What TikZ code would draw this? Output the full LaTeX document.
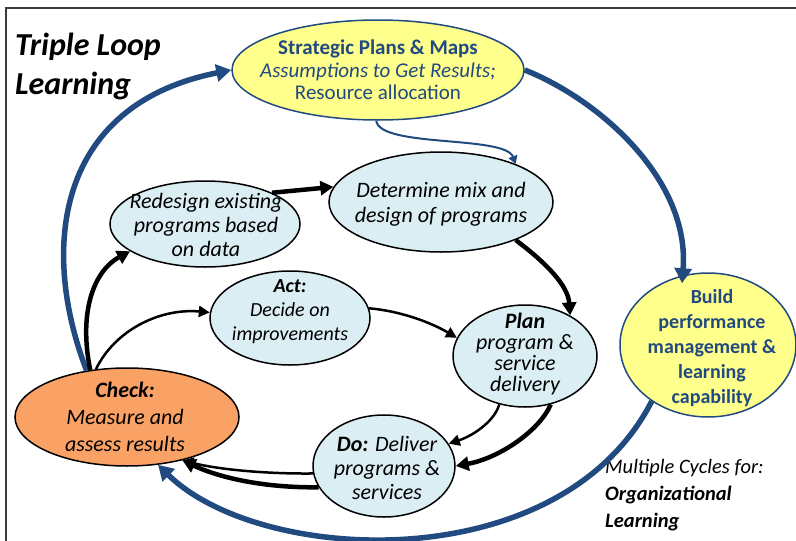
\documentclass[tikz,border=0pt]{standalone}
\usepackage{fontspec}
\setmainfont{Carlito}
\usetikzlibrary{shapes.geometric,arrows.meta}
\definecolor{bblue}{RGB}{33,74,128}
\definecolor{yfill}{RGB}{255,255,140}
\definecolor{lbfill}{RGB}{219,238,244}
\definecolor{ofill}{RGB}{250,162,102}
\definecolor{framec}{RGB}{60,60,60}
\begin{document}
\begin{tikzpicture}[x=1pt,y=-1pt,
  ell/.style={ellipse, draw=black, line width=1.5pt, inner sep=0pt},
  lbell/.style={ell, fill=lbfill},
  yell/.style={ellipse, draw=bblue, line width=1.5pt, fill=yfill, inner sep=0pt},
  txt/.style={align=center, inner sep=0pt, font=\fontsize{22}{24}\selectfont\itshape},
  bigblue/.style={draw=bblue, line width=5.5pt, -{Triangle[length=15pt,width=17pt]}},
  thinblue/.style={draw=bblue, line width=2pt, -{Triangle[length=8pt,width=9pt]}},
  thickarr/.style={draw=black, line width=4.5pt, -{Triangle[length=13pt,width=14pt]}},
  thinarr/.style={draw=black, line width=2.5pt, -{Triangle[length=11pt,width=11pt]}}
]
\useasboundingbox (0,0) rectangle (796,541);
\fill[white] (0,0) rectangle (796,541);
\draw[framec, line width=1.5pt] (796,8) -- (6,8) -- (6,541);

% nodes
\node[yell, minimum width=292pt, minimum height=100pt] (strat) at (378,70) {};
\node[yell, minimum width=176pt, minimum height=144pt] (build) at (708,345) {};
\node[lbell, minimum width=190pt, minimum height=86pt] (redesign) at (205,224) {};
\node[lbell, minimum width=224pt, minimum height=100pt] (det) at (441,202) {};
\node[lbell, minimum width=160pt, minimum height=94pt] (act) at (290,318) {};
\node[lbell, minimum width=144pt, minimum height=102pt] (plan) at (525,356) {};
\node[lbell, minimum width=142pt, minimum height=102pt] (do) at (384,466) {};
\node[ell, fill=ofill, minimum width=224pt, minimum height=98pt] (check) at (127,417) {};

% texts
\node[align=center, inner sep=0pt, text=bblue, font=\fontsize{21}{22.5}\selectfont] (strattxt) at (378,70)
  {\textbf{Strategic Plans \& Maps}\\\textit{Assumptions to Get Results;}\\Resource allocation};
\node[align=center, inner sep=0pt, text=bblue, font=\fontsize{20}{25}\selectfont\bfseries] (buildtxt) at (712,348)
  {Build\\performance\\management \&\\learning\\capability};
\node[txt] (redesigntxt) at (206,225) {Redesign existing\\programs based\\on data};
\node[txt, font=\fontsize{22}{25}\selectfont\itshape] (dettxt) at (441,204) {Determine mix and\\design of programs};
\node[txt, font=\fontsize{20}{24}\selectfont\itshape] (acttxt) at (290,312) {\textbf{Act:}\\Decide on\\improvements};
\node[txt, font=\fontsize{22}{21}\selectfont\itshape] (plantxt) at (525,354) {\textbf{Plan}\\program \&\\service\\delivery};
\node[txt] (dotxt) at (387,468) {\textbf{Do:} Deliver\\programs \&\\services};
\node[txt, font=\fontsize{22}{27}\selectfont\itshape] (checktxt) at (125,417) {\textbf{Check:}\\Measure and\\assess results};
\node[align=left, anchor=west, inner sep=0pt, font=\fontsize{32}{39}\selectfont\bfseries\itshape] (title) at (15,66) {Triple Loop\\Learning};
\node[align=left, anchor=west, inner sep=0pt, font=\fontsize{20.5}{27}\selectfont\itshape] (multi) at (605,495)
  {Multiple Cycles for:\\\textbf{Organizational}\\\textbf{Learning}};

% blue loop arrows
\draw[bigblue] (check.131) .. controls (40,250) and (55,105) .. (strat.west);
\draw[bigblue, shorten >=-8pt] (strat.east) .. controls (600,100) and (690,180) .. (build.110);
\draw[bigblue] (build.225) .. controls (560,580) and (260,565) .. (check.303);
\draw[thinblue] (strat.268) .. controls (380,148) and (505,135) .. (det.27);

% black arrows
\draw[thickarr] (check.128) .. controls (78,310) and (95,270) .. (redesign.200);
\draw[thinarr] (check.123) .. controls (115,330) and (160,308) .. (act.176);
\draw[thickarr] (redesign.25) -- (det.172);
\draw[thickarr] (det.333) .. controls (545,262) and (568,285) .. (plan.42);
\draw[thinarr] (act.7) .. controls (400,311) and (430,322) .. (plan.165);
\draw[thinarr] (plan.242) .. controls (495,420) and (475,435) .. (do.19);
\draw[thickarr] (plan.298) .. controls (540,430) and (500,458) .. (do.0);
\draw[thinarr] (do.186) .. controls (270,474) and (220,470) .. (check.322);
\draw[thickarr] (do.198) .. controls (265,488) and (220,478) .. (check.322);
\end{tikzpicture}
\end{document}
